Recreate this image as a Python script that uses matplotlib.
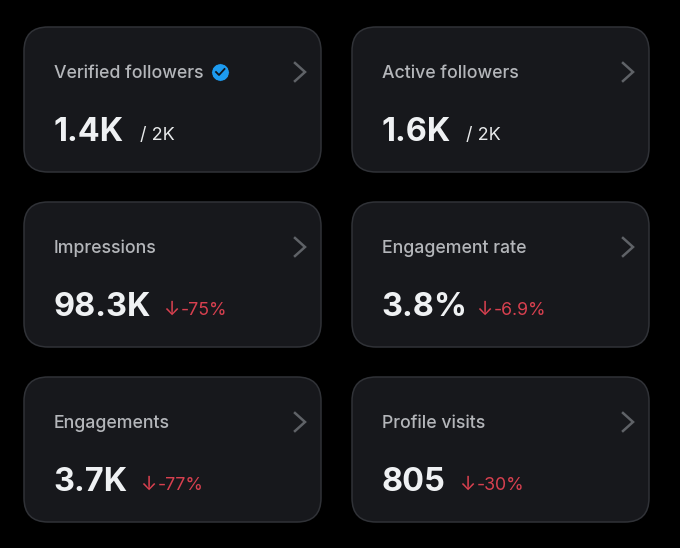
import matplotlib
matplotlib.use("Agg")
import matplotlib.pyplot as plt
from matplotlib.patches import FancyBboxPatch

plt.rcParams['font.family'] = ['Inter', 'DejaVu Sans']

titles = ["Verified followers", "Active followers", "Impressions", "Engagement rate", "Engagements", "Profile visits"]
values = ["1.4K", "1.6K", "98.3K", "3.8%", "3.7K", "805"]
notes = ["/ 2K", "/ 2K", "-75%", "-6.9%", "-77%", "-30%"]
is_delta = [False, False, True, True, True, True]

# left edge of the note next to each value, in pixels
note_x = [140, 466, 163, 476, 140, 459]

card_left = [24, 352, 24, 352, 24, 352]
card_top = [27, 27, 202, 202, 377, 377]
card_w = 297
card_h = 145

bg = "#000000"
card_col = "#17181c"
edge_col = "#303237"
title_col = "#b4b6ba"
value_col = "#eff1f3"
note_col = "#e7e9ea"
red = "#d8404f"
chev_col = "#5f6267"
blue = "#1d9bf0"

fig = plt.figure(figsize=(6.8, 5.48), dpi=100, facecolor=bg)
ax = fig.add_axes([0, 0, 1, 1])
ax.set_xlim(0, 680)
ax.set_ylim(548, 0)
ax.axis("off")

for i in range(6):
    x = card_left[i]
    y = card_top[i]
    r = 24
    ax.add_patch(FancyBboxPatch((x + r, y + r), card_w - 2 * r, card_h - 2 * r,
                                boxstyle=f"round,pad={r},rounding_size={r}",
                                fc=card_col, ec=edge_col, lw=1.1))
    ax.text(x + 30, y + 51, titles[i], color=title_col, fontsize=12.75, fontweight="medium", va="baseline")
    ax.text(x + 29.5, y + 114, values[i], color=value_col, fontsize=23.4, fontweight="bold", va="baseline")
    if is_delta[i]:
        ax.text(note_x[i], y + 113, "↓", color=red, fontsize=14, va="baseline")
        ax.text(note_x[i] + 18, y + 113, notes[i], color=red, fontsize=12.8, va="baseline")
    else:
        ax.text(note_x[i], y + 113, notes[i], color=note_col, fontsize=13, va="baseline")
    # chevron
    cx = x + 271
    cy = y + 45
    ax.plot([cx, cx + 10, cx], [cy - 9, cy, cy + 9], color=chev_col, lw=1.8, solid_joinstyle="miter")

# verified badge
ax.scatter([220], [72], s=170, marker=(12, 1, 0), color=blue, lw=0, zorder=3)
ax.scatter([220], [72], s=145, marker="o", color=blue, lw=0, zorder=3)
ax.plot([216, 219, 224.5], [72, 75, 69], color="#10151c", lw=1.3, zorder=4)

fig.savefig("out.png", dpi=100, facecolor=bg)
